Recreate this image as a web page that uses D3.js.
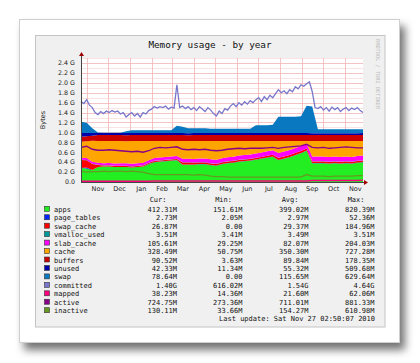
<!DOCTYPE html>
<html><head><meta charset="utf-8">
<script src="https://cdn.jsdelivr.net/npm/d3@7"></script>
<style>body{margin:0;background:#fff}svg{display:block}</style>
</head><body><svg id="c" width="420" height="363"></svg>
<script>
// ---------- DATA (values in G) ----------
const dates = ["2009-10-23","2009-10-31","2009-11-08","2009-11-16","2009-11-24","2009-12-02","2009-12-10","2009-12-18","2009-12-26",
"2010-01-03","2010-01-11","2010-01-19","2010-01-27","2010-02-04","2010-02-12","2010-02-20","2010-02-28","2010-03-08","2010-03-16",
"2010-03-24","2010-04-01","2010-04-09","2010-04-17","2010-04-25","2010-05-03","2010-05-11","2010-05-19","2010-05-27","2010-06-04",
"2010-06-12","2010-06-20","2010-06-28","2010-07-06","2010-07-14","2010-07-22","2010-07-30","2010-08-07","2010-08-15","2010-08-23",
"2010-08-31","2010-09-08","2010-09-16","2010-09-24","2010-10-02","2010-10-10","2010-10-18","2010-10-26","2010-11-03","2010-11-11",
"2010-11-19","2010-11-27"];

const apps = [.28,.27,.24,.30,.31,.31,.30,.30,.30,.29,.30,.31,.36,.40,.41,.42,.43,.44,.35,.35,.35,.36,.36,.34,.33,.36,.38,.39,.41,.42,.43,.45,.47,.49,.51,.44,.47,.50,.54,.58,.63,.38,.38,.38,.37,.38,.37,.38,.37,.39,.40];
const pageTables = [.003,.02,.003,.003,.003,.003,.003,.003,.003,.003,.003,.003,.003,.003,.003,.003,.003,.003,.003,.003,.003,.003,.003,.003,.003,.003,.003,.003,.003,.003,.003,.003,.003,.003,.003,.003,.003,.003,.003,.003,.003,.003,.003,.003,.003,.003,.003,.003,.003,.003,.0027];
const swapCache = [.16,.15,.12,.04,.02,.02,.02,.02,.02,.02,.02,.02,.02,.02,.02,.02,.02,.02,.04,.04,.035,.03,.03,.03,.03,.03,.03,.03,.03,.03,.03,.03,.03,.035,.035,.04,.04,.04,.04,.04,.04,.03,.03,.03,.03,.03,.03,.03,.03,.03,.026];
const vmallocUsed = [.0035,.0035,.0035,.0035,.0035,.0035,.0035,.0035,.0035,.0035,.0035,.0035,.0035,.0035,.0035,.0035,.0035,.0035,.0035,.0035,.0035,.0035,.0035,.0035,.0035,.0035,.0035,.0035,.0035,.0035,.0035,.0035,.0035,.0035,.0035,.0035,.0035,.0035,.0035,.0035,.0035,.0035,.0035,.0035,.0035,.0035,.0035,.0035,.0035,.0035,.0035];
const slabCache = [.04,.04,.04,.04,.04,.045,.045,.05,.05,.05,.05,.05,.05,.055,.055,.06,.06,.06,.07,.07,.07,.075,.075,.08,.08,.08,.085,.085,.09,.09,.09,.09,.09,.09,.09,.10,.10,.10,.10,.10,.10,.10,.10,.10,.10,.10,.10,.10,.10,.10,.103];
const cache = [.324,.337,.424,.439,.449,.444,.454,.449,.444,.459,.449,.439,.389,.344,.334,.319,.309,.299,.359,.358,.364,.354,.354,.369,.379,.349,.324,.314,.289,.279,.269,.249,.229,.204,.184,.239,.209,.179,.139,.099,.049,.309,.309,.309,.319,.309,.319,.309,.319,.299,.29];
const buffers = [.10,.10,.10,.12,.12,.12,.12,.12,.12,.12,.12,.12,.12,.12,.12,.12,.12,.12,.12,.12,.12,.12,.12,.12,.12,.12,.12,.12,.12,.12,.12,.12,.12,.12,.12,.12,.12,.12,.12,.12,.12,.12,.12,.12,.12,.12,.12,.12,.12,.12,.12];
const unused = [.075,.065,.055,.04,.04,.04,.04,.04,.045,.04,.04,.04,.04,.04,.04,.04,.04,.04,.04,.04,.04,.04,.04,.04,.04,.04,.04,.04,.04,.04,.04,.04,.04,.04,.04,.04,.04,.04,.04,.04,.04,.038,.038,.038,.038,.038,.038,.038,.038,.038,.041];
const swap = [.23,.21,.10,.01,.005,.005,.005,.005,.04,.06,.06,.06,.06,.06,.06,.06,.06,.15,.13,.10,.10,.10,.10,.09,.09,.09,.09,.09,.09,.09,.09,.16,.16,.16,.17,.33,.33,.33,.33,.34,.55,.54,.08,.08,.08,.08,.08,.08,.08,.08,.077];
const mapped = [.015,.015,.015,.015,.015,.015,.015,.015,.015,.015,.015,.015,.015,.02,.02,.02,.02,.02,.02,.02,.02,.02,.02,.02,.02,.02,.02,.02,.02,.02,.02,.02,.02,.02,.02,.02,.02,.02,.02,.02,.02,.03,.03,.03,.03,.03,.03,.03,.03,.03,.037];
const active = [.70,.72,.66,.64,.64,.65,.64,.63,.62,.61,.62,.60,.63,.68,.70,.69,.70,.71,.66,.65,.66,.65,.66,.64,.63,.64,.66,.67,.68,.67,.68,.68,.68,.69,.70,.68,.70,.71,.72,.73,.76,.70,.69,.70,.68,.69,.70,.71,.70,.69,.69];
const inactive = [.22,.20,.21,.21,.22,.21,.22,.22,.21,.22,.21,.20,.17,.15,.15,.15,.15,.15,.15,.15,.14,.15,.14,.12,.11,.11,.10,.10,.10,.10,.10,.10,.10,.10,.10,.10,.10,.10,.10,.10,.15,.12,.12,.12,.11,.12,.12,.12,.12,.13,.13];

// committed is sampled more finely (every 4 days)
const committedDates = ["2009-10-23","2009-10-27","2009-10-31","2009-11-04","2009-11-08","2009-11-12","2009-11-16","2009-11-20","2009-11-24","2009-11-28",
"2009-12-02","2009-12-06","2009-12-10","2009-12-14","2009-12-18","2009-12-22","2009-12-26","2009-12-30","2010-01-03","2010-01-07",
"2010-01-11","2010-01-15","2010-01-19","2010-01-23","2010-01-27","2010-01-31","2010-02-04","2010-02-08","2010-02-12","2010-02-16",
"2010-02-20","2010-02-24","2010-02-28","2010-03-04","2010-03-08","2010-03-12","2010-03-16","2010-03-20","2010-03-24","2010-03-28",
"2010-04-01","2010-04-05","2010-04-09","2010-04-13","2010-04-17","2010-04-21","2010-04-25","2010-04-29","2010-05-03","2010-05-07",
"2010-05-11","2010-05-15","2010-05-19","2010-05-23","2010-05-27","2010-05-31","2010-06-04","2010-06-08","2010-06-12","2010-06-16",
"2010-06-20","2010-06-24","2010-06-28","2010-07-02","2010-07-06","2010-07-10","2010-07-14","2010-07-18","2010-07-22","2010-07-26",
"2010-07-30","2010-08-03","2010-08-07","2010-08-11","2010-08-15","2010-08-19","2010-08-23","2010-08-27","2010-08-31","2010-09-04",
"2010-09-08","2010-09-12","2010-09-16","2010-09-20","2010-09-24","2010-09-28","2010-10-02","2010-10-06","2010-10-10","2010-10-14",
"2010-10-18","2010-10-22","2010-10-26","2010-10-30","2010-11-03","2010-11-07","2010-11-11","2010-11-15","2010-11-19","2010-11-23","2010-11-27"];
const committed = [1.62,1.58,1.66,1.55,1.50,1.40,1.36,1.42,1.38,1.43,
1.40,1.44,1.41,1.43,1.37,1.40,1.31,1.36,1.40,1.33,
1.38,1.31,1.40,1.37,1.44,1.47,1.52,1.49,1.52,1.50,
1.53,1.47,1.51,1.49,1.96,1.50,1.53,1.48,1.52,1.46,
1.50,1.44,1.52,1.47,1.42,1.50,1.45,1.38,1.33,1.43,
1.38,1.48,1.45,1.53,1.58,1.52,1.60,1.55,1.62,1.57,
1.64,1.60,1.66,1.70,1.62,1.72,1.66,1.75,1.70,1.78,
1.86,1.80,1.84,1.78,1.86,1.82,1.92,1.88,1.96,1.93,
1.98,2.02,1.82,1.50,1.48,1.52,1.45,1.50,1.43,1.51,
1.46,1.50,1.42,1.47,1.50,1.44,1.49,1.46,1.50,1.44,1.40];

const seriesNames = ["apps","page_tables","swap_cache","vmalloc_used","slab_cache","cache","buffers","unused","swap","committed","mapped","active","inactive"];
const seriesColors = ["#22ee22","#0022ff","#ff0000","#009a9a","#ff00ff","#ffa500","#cc0000","#0000aa","#0a78c0","#7777cc","#ff0080","#880088","#669922"];
const stackNames = seriesNames.slice(0, 9);
const lineNames = ["mapped","active","inactive"];
const legendCur = ["412.31M","2.73M","26.87M","3.51M","105.61M","328.49M","90.52M","42.33M","78.64M","1.40G","38.23M","724.75M","130.11M"];
const legendMin = ["151.61M","2.05M","0.00","3.41M","29.25M","50.75M","3.63M","11.34M","0.00","616.02M","14.36M","273.36M","33.66M"];
const legendAvg = ["399.02M","2.97M","29.37M","3.49M","82.07M","350.30M","89.84M","55.32M","115.65M","1.54G","21.60M","711.01M","154.27M"];
const legendMax = ["820.39M","52.36M","184.96M","3.51M","204.03M","727.28M","178.35M","509.68M","629.64M","4.64G","62.06M","881.33M","610.98M"];
const yTickValues = [0,0.2,0.4,0.6,0.8,1.0,1.2,1.4,1.6,1.8,2.0,2.2,2.4];
const yTickLabels = ["0.0","0.2 G","0.4 G","0.6 G","0.8 G","1.0 G","1.2 G","1.4 G","1.6 G","1.8 G","2.0 G","2.2 G","2.4 G"];
const monthLabels = ["Nov","Dec","Jan","Feb","Mar","Apr","May","Jun","Jul","Aug","Sep","Oct","Nov"];
const titleText = "Memory usage - by year";
const yAxisTitle = "Bytes";
const sideText = "RRDTOOL / TOBI OETIKER";
const lastUpdate = "Last update: Sat Nov 27 02:50:07 2010";

// ---------- BUILD ----------
const cols = {apps, page_tables: pageTables, swap_cache: swapCache, vmalloc_used: vmallocUsed, slab_cache: slabCache,
  cache, buffers, unused, swap, mapped, active, inactive};
const parse = d3.utcParse("%Y-%m-%d");
const rows = dates.map((d, i) => {
  const r = {date: parse(d)};
  Object.keys(cols).forEach(n => r[n] = cols[n][i]);
  return r;
});
const commRows = committedDates.map((d, i) => ({date: parse(d), v: committed[i]}));
const colorOf = n => seriesColors[seriesNames.indexOf(n)];

const svg = d3.select("#c");
const defs = svg.append("defs");
const f = defs.append("filter").attr("id","sh").attr("x","-10%").attr("y","-10%").attr("width","130%").attr("height","130%");
f.append("feDropShadow").attr("dx",5).attr("dy",7).attr("stdDeviation",4).attr("flood-color","#000").attr("flood-opacity",0.55);

svg.append("rect").attr("x",19.5).attr("y",19.5).attr("width",380).attr("height",323)
  .attr("fill","#fff").attr("stroke","#cfcfcf").attr("filter","url(#sh)");
svg.append("rect").attr("x",35.5).attr("y",35.5).attr("width",349.5).attr("height",291.5)
  .attr("fill","#f0f0f0").attr("stroke","#c4c4c4");

const X0 = 81, X1 = 363, Y0 = 182, Y1 = 58;
const tStart = rows[0].date, tEnd = rows[rows.length-1].date;
const x = d3.scaleUtc().domain([tStart, tEnd]).range([X0, X1]);
const y = d3.scaleLinear().domain([0, 2.5]).range([Y0, Y1]);

svg.append("rect").attr("x",X0).attr("y",Y1).attr("width",X1-X0).attr("height",Y0-Y1).attr("fill","#fff");

// grid
const g = svg.append("g");
d3.range(1, 26).forEach(k => {
  const v = k / 10;
  const major = k % 2 === 0;
  g.append("line").attr("x1",X0).attr("x2",X1).attr("y1",Math.round(y(v))+0.5).attr("y2",Math.round(y(v))+0.5)
    .attr("stroke", major ? "#f2b4b4" : "#f9dcdc").attr("stroke-width",0.8);
});
const firstMonth = d3.utcMonth.ceil(tStart);
const monthStarts = monthLabels.map((_, i) => d3.utcMonth.offset(firstMonth, i));
monthStarts.forEach(m => {
  const px = Math.round(x(m)) + 0.5;
  g.append("line").attr("x1",px).attr("x2",px).attr("y1",Y1).attr("y2",Y0).attr("stroke","#f2b4b4").attr("stroke-width",0.8);
});

// stacks
const stack = d3.stack().keys(stackNames)(rows);
const area = d3.area().x(d => x(d.data.date)).y0(d => y(d[0])).y1(d => y(d[1]));
svg.append("g").selectAll("path").data(stack).join("path")
  .attr("d", area).attr("fill", d => colorOf(d.key));

// lines
svg.append("path").datum(commRows).attr("d", d3.line().x(d => x(d.date)).y(d => y(d.v)))
  .attr("fill","none").attr("stroke", colorOf("committed")).attr("stroke-width", 1.3);
lineNames.forEach(n => {
  svg.append("path").datum(rows).attr("d", d3.line().x(d => x(d.date)).y(d => y(d[n]))).attr("fill","none")
    .attr("stroke", colorOf(n)).attr("stroke-width", 1.3);
});

// axes
svg.append("line").attr("x1",X0).attr("x2",X1+2).attr("y1",Y0+0.5).attr("y2",Y0+0.5).attr("stroke","#444");
svg.append("line").attr("x1",X0+0.5).attr("x2",X0+0.5).attr("y1",Y0).attr("y2",Y1-3).attr("stroke","#444");
svg.append("path").attr("d",`M${X1+1},${Y0-2} L${X1+5},${Y0+0.5} L${X1+1},${Y0+3} Z`).attr("fill","#a00000");
svg.append("path").attr("d",`M${X0-2},${Y1-2} L${X0+0.5},${Y1-6} L${X0+3},${Y1-2} Z`).attr("fill","#a00000");

const sans = "'DejaVu Sans', sans-serif";
const mono = "'DejaVu Sans Mono', monospace";
yTickValues.forEach((v, i) => {
  svg.append("text").attr("x",75).attr("y",y(v)+2.3).attr("text-anchor","end")
    .attr("font-family",sans).attr("font-size",6.3).attr("fill","#222").text(yTickLabels[i]);
});
monthStarts.forEach((m, i) => {
  const next = d3.utcMonth.offset(m, 1);
  const mid = new Date((m.getTime() + next.getTime()) / 2);
  svg.append("text").attr("x",x(mid)).attr("y",191).attr("text-anchor","middle")
    .attr("font-family",sans).attr("font-size",6.5).attr("fill","#222").text(monthLabels[i]);
});
svg.append("text").attr("transform","translate(44.5,120) rotate(-90)").attr("text-anchor","middle")
  .attr("font-family",sans).attr("font-size",6.5).attr("fill","#222").text(yAxisTitle);
svg.append("text").attr("x",210).attr("y",47.5).attr("text-anchor","middle")
  .attr("font-family",mono).attr("font-size",9.3).attr("fill","#111").text(titleText);
svg.append("text").attr("transform","translate(376,39) rotate(90)")
  .attr("font-family",mono).attr("font-size",5.3).attr("fill","#bbb").text(sideText);

// legend
const L = svg.append("g").attr("font-family",mono).attr("font-size",7).attr("fill","#111");
const colX = [166.5, 232, 298.5, 364.5];
["Cur:","Min:","Avg:","Max:"].forEach((h, i) => L.append("text").attr("x",colX[i]).attr("y",202).attr("text-anchor","end").text(h));
const valX = [177, 242.5, 308.5, 374.5];
seriesNames.forEach((n, k) => {
  const ry = 211.8 + 8.45 * k;
  L.append("rect").attr("x",44.5).attr("y",ry-5.5).attr("width",5).attr("height",5)
    .attr("fill",seriesColors[k]).attr("stroke","#333").attr("stroke-width",0.6);
  L.append("text").attr("x",54).attr("y",ry).text(n);
  [legendCur, legendMin, legendAvg, legendMax].forEach((arr, j) =>
    L.append("text").attr("x",valX[j]).attr("y",ry).attr("text-anchor","end").text(arr[k]));
});
L.append("text").attr("x",375).attr("y",320.5).attr("text-anchor","end").text(lastUpdate);
</script></body></html>
